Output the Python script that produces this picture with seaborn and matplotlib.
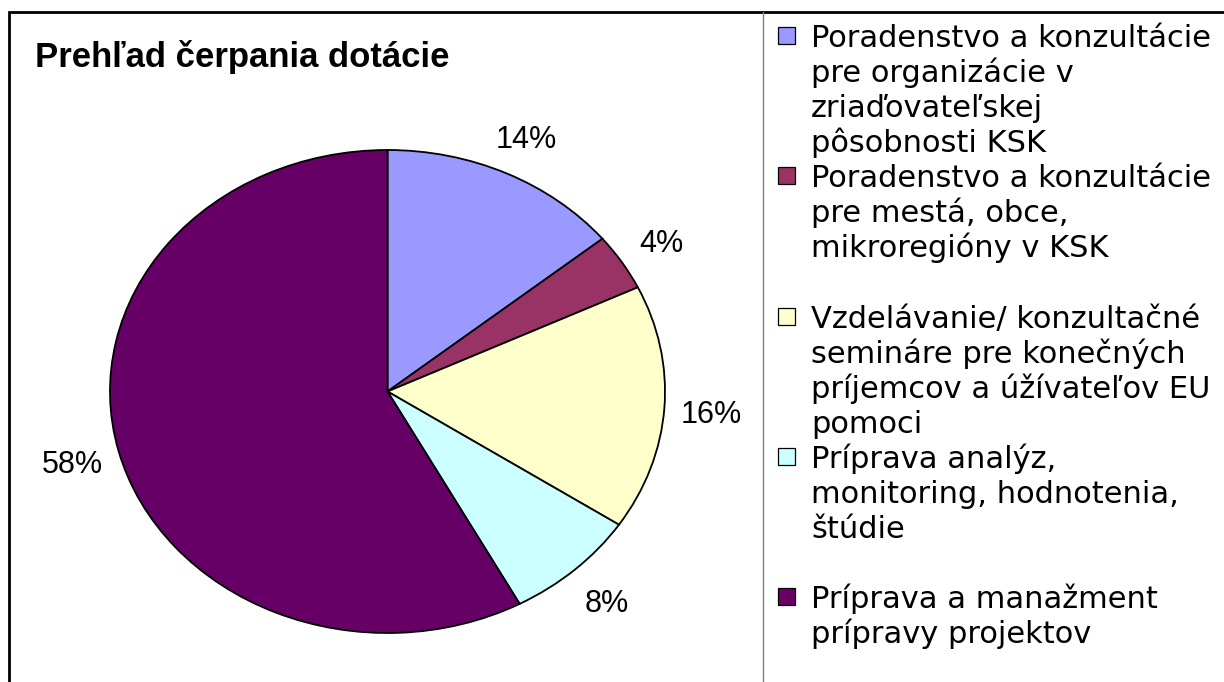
import matplotlib
matplotlib.use('Agg')
import matplotlib.pyplot as plt
import matplotlib.transforms as mtransforms
import seaborn as sns
from matplotlib.patches import Rectangle
from matplotlib.lines import Line2D

# Data
categories = [
    'Poradenstvo a konzultácie\npre organizácie v\nzriaďovateľskej\npôsobnosti KSK',
    'Poradenstvo a konzultácie\npre mestá, obce,\nmikroregióny v KSK',
    'Vzdelávanie/ konzultačné\nsemináre pre konečných\npríjemcov a úžívateľov EU\npomoci',
    'Príprava analýz,\nmonitoring, hodnotenia,\nštúdie',
    'Príprava a manažment\nprípravy projektov',
]
shares = [14.1, 3.8, 16.4, 7.8, 57.9]
slice_colors = ['#9999FF', '#993366', '#FFFFCC', '#CCFFFF', '#660066']
title = 'Prehľad čerpania dotácie'

sns.set_theme(style='white')
plt.rcParams['font.family'] = ['Liberation Sans', 'DejaVu Sans']

W, H = 1224, 682
fig = plt.figure(figsize=(W / 100, H / 100), dpi=100)
fig.patch.set_facecolor('white')

# pie geometry in pixels (the chart is stretched horizontally)
cx, cy, rx, ry = 387.5, 391.5, 277.5, 241.5
L = 1.3
ax = fig.add_axes([(cx - L * rx) / W, (H - cy - L * ry) / H,
                   2 * L * rx / W, 2 * L * ry / H])
palette = sns.color_palette(slice_colors)
wedges, texts, pct_texts = ax.pie(
    shares, colors=palette, startangle=90, counterclock=False,
    wedgeprops=dict(edgecolor='black', linewidth=1.3),
    autopct=lambda p: f'{p:.0f}%', pctdistance=1.17,
    textprops=dict(fontsize=22, color='black', family='Liberation Sans'))
ax.set_aspect('auto')
ax.set_xlim(-L, L)
ax.set_ylim(-L, L)
ax.axis('off')

# Excel puts the labels a little lower
for t in pct_texts:
    t.set_transform(mtransforms.offset_copy(t.get_transform(), fig=fig,
                                            x=0, y=-4, units='dots'))

# chart frame
fig.add_artist(Rectangle((9 / W, -0.1), 1.2, (H - 12) / H + 0.1,
                         transform=fig.transFigure, fill=False,
                         edgecolor='black', linewidth=2))
fig.add_artist(Line2D([763 / W, 763 / W], [0, (H - 12) / H],
                      transform=fig.transFigure, color='#808080', linewidth=1))

# title
fig.text(35 / W, 1 - 67 / H, title, fontsize=25, fontweight='bold',
         family='Liberation Sans', va='baseline', color='black')

# legend, fixed slots like the original
for i, (lab, col) in enumerate(zip(categories, slice_colors)):
    base = 47 + 140.3 * i
    fig.add_artist(Rectangle((778 / W, 1 - (base - 3) / H), 17 / W, 17 / H,
                             transform=fig.transFigure, facecolor=col,
                             edgecolor='black', linewidth=0.9))
    for j, line in enumerate(lab.split('\n')):
        fig.text(811 / W, 1 - (base + 35 * j) / H, line, fontsize=22,
                 family='DejaVu Sans', va='baseline', color='black')

plt.savefig('out.png', dpi=100)
